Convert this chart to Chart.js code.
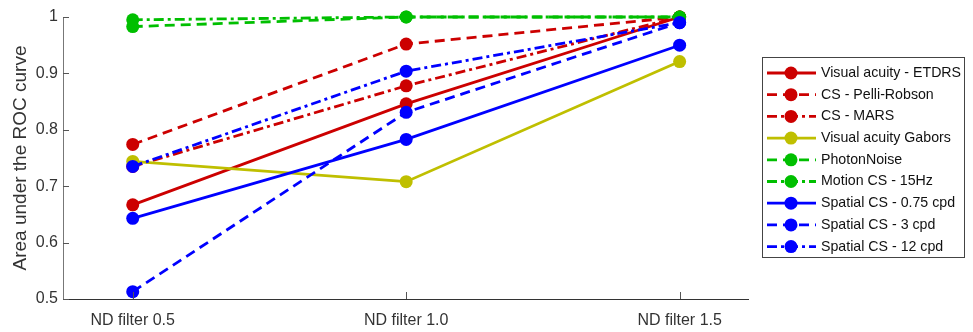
<!DOCTYPE html>
<html>
<head>
<meta charset="utf-8">
<script src="https://cdn.jsdelivr.net/npm/chart.js@4.4.0/dist/chart.umd.min.js"></script>
<style>
  html, body { margin: 0; padding: 0; background: #fff; }
  #wrap { width: 973px; height: 332px; }
</style>
</head>
<body>
<div id="wrap"><canvas id="rocChart" width="973" height="332"></canvas></div>
<script>
// Categories along x
const categories = ['ND filter 0.5', 'ND filter 1.0', 'ND filter 1.5'];

// Series values (AUC per filter)
const vaEtdrs = [0.667, 0.846, 1.0];
const csPelli = [0.774, 0.952, 1.0];
const csMars = [0.735, 0.878, 1.0];
const vaGabors = [0.744, 0.708, 0.921];
const photonNoise = [0.983, 1.0, 1.0];
const motionCs = [0.995, 1.0, 1.0];
const spatial075 = [0.643, 0.783, 0.950];
const spatial3 = [0.513, 0.831, 0.990];
const spatial12 = [0.735, 0.904, 0.990];

const seriesNames = [
    'Visual acuity - ETDRS', 'CS - Pelli-Robson', 'CS - MARS',
    'Visual acuity Gabors', 'PhotonNoise', 'Motion CS - 15Hz',
    'Spatial CS - 0.75 cpd', 'Spatial CS - 3 cpd', 'Spatial CS - 12 cpd'
];
const seriesValues = [vaEtdrs, csPelli, csMars, vaGabors, photonNoise, motionCs, spatial075, spatial3, spatial12];

const yTicks = [0.5, 0.6, 0.7, 0.8, 0.9, 1];

const RED = '#cc0000';
const YELLOW = '#bfbf00';
const GREEN = '#00bf00';
const BLUE = '#0000ff';

const DASH = [10, 6];
const DASHDOT = [10, 4, 3, 4];

const styles = [
    { color: RED, dash: [] },
    { color: RED, dash: DASH },
    { color: RED, dash: DASHDOT },
    { color: YELLOW, dash: [] },
    { color: GREEN, dash: DASH },
    { color: GREEN, dash: DASHDOT },
    { color: BLUE, dash: [] },
    { color: BLUE, dash: DASH },
    { color: BLUE, dash: DASHDOT }
];

const FONT = "'Liberation Sans', Arial, sans-serif";
const TEXT = '#333333';

const datasets = seriesNames.map((name, i) => ({
    label: name,
    data: seriesValues[i].map((v, k) => ({ x: k, y: v })),
    borderColor: styles[i].color,
    backgroundColor: styles[i].color,
    borderDash: styles[i].dash,
    borderWidth: 2.8,
    pointRadius: 6.5,
    pointBorderWidth: 0,
    pointBackgroundColor: styles[i].color,
    tension: 0,
    clip: false,
    order: seriesNames.length - i // later series on top, like the original
}));

// Inward tick marks
const innerTicks = {
    id: 'innerTicks',
    afterDatasetsDraw(chart) {
        const ctx = chart.ctx;
        const xs = chart.scales.x, ys = chart.scales.y;
        const area = chart.chartArea;
        ctx.save();
        ctx.lineWidth = 1;
        ctx.strokeStyle = '#555';
        yTicks.forEach(v => {
            const py = Math.round(ys.getPixelForValue(v)) + 0.5;
            ctx.beginPath();
            ctx.moveTo(area.left, py);
            ctx.lineTo(area.left + 6, py);
            ctx.stroke();
        });
        categories.forEach((c, k) => {
            const px = Math.round(xs.getPixelForValue(k)) + 0.5;
            ctx.beginPath();
            ctx.moveTo(px, area.bottom);
            ctx.lineTo(px, area.bottom - 7);
            ctx.stroke();
        });
        ctx.restore();
    }
};

// Matlab style legend box
const boxLegend = {
    id: 'boxLegend',
    afterDraw(chart) {
        const ctx = chart.ctx;
        const left = 762, top = 57, right = 964, bottom = 257;
        const rowStart = 73, rowStep = 21.7;
        ctx.save();
        ctx.fillStyle = '#fff';
        ctx.fillRect(left, top, right - left, bottom - top);
        ctx.strokeStyle = '#444';
        ctx.lineWidth = 1;
        ctx.strokeRect(left + 0.5, top + 0.5, right - left, bottom - top);
        chart.data.datasets.forEach((ds, i) => {
            const y = rowStart + i * rowStep;
            ctx.strokeStyle = ds.borderColor;
            ctx.lineWidth = ds.borderWidth;
            ctx.setLineDash(ds.borderDash);
            ctx.beginPath();
            ctx.moveTo(767, y);
            ctx.lineTo(816, y);
            ctx.stroke();
            ctx.setLineDash([]);
            ctx.fillStyle = ds.pointBackgroundColor;
            ctx.beginPath();
            ctx.arc(791, y, 6.5, 0, Math.PI * 2);
            ctx.fill();
            ctx.fillStyle = '#111';
            ctx.font = '14.2px ' + FONT;
            ctx.textBaseline = 'middle';
            ctx.textAlign = 'left';
            ctx.fillText(ds.label, 821, y);
        });
        ctx.restore();
    }
};

const ctx = document.getElementById('rocChart').getContext('2d');
new Chart(ctx, {
    type: 'line',
    data: { datasets: datasets },
    options: {
        responsive: false,
        animation: false,
        devicePixelRatio: 1,
        layout: { padding: { left: 0, right: 225, top: 17, bottom: 0 } },
        plugins: {
            legend: { display: false },
            tooltip: { enabled: false }
        },
        scales: {
            x: {
                type: 'linear',
                min: -0.255,
                max: 2.25,
                afterBuildTicks: scale => {
                    scale.ticks = categories.map((c, k) => ({ value: k }));
                },
                afterFit: scale => { scale.height = 33; },
                grid: { display: false, drawTicks: false },
                border: { display: true, color: '#333', width: 1 },
                ticks: {
                    color: TEXT,
                    font: { family: FONT, size: 16 },
                    padding: 12,
                    maxRotation: 0,
                    callback: value => categories[value]
                }
            },
            y: {
                min: 0.5,
                max: 1,
                afterBuildTicks: scale => {
                    scale.ticks = yTicks.map(v => ({ value: v }));
                },
                afterFit: scale => { scale.width = 63; },
                grid: { display: false, drawTicks: false },
                border: { display: true, color: '#777', width: 1 },
                title: {
                    display: true,
                    text: 'Area under the ROC curve',
                    color: TEXT,
                    font: { family: FONT, size: 19 },
                    padding: { top: 9, bottom: 0 }
                },
                ticks: {
                    color: TEXT,
                    font: { family: FONT, size: 16 },
                    padding: 5,
                    callback: v => (Math.abs(v - 1) < 1e-9 ? '1' : v.toFixed(1))
                }
            }
        }
    },
    plugins: [innerTicks, boxLegend]
});
</script>
</body>
</html>
